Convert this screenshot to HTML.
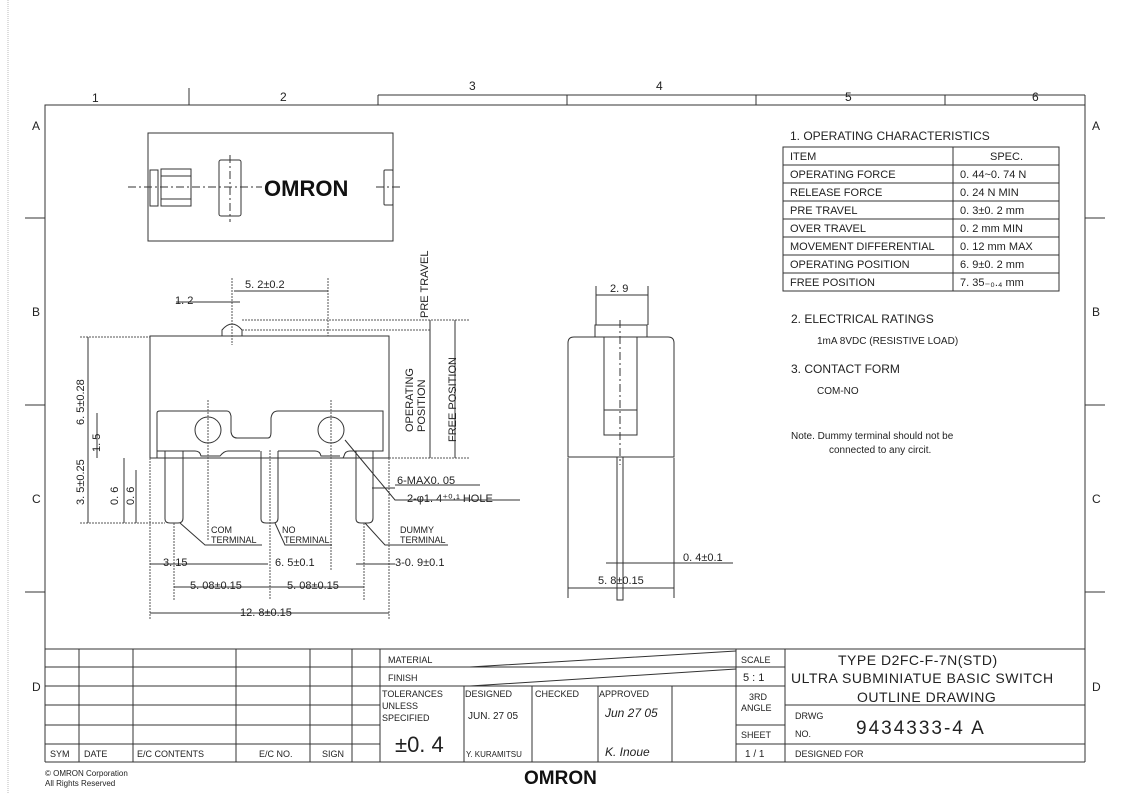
<!DOCTYPE html>
<html><head><meta charset="utf-8"><style>
body{margin:0;background:#fff}
svg{display:block}
text{font-family:"Liberation Sans",sans-serif;fill:#222}
</style></head><body>
<svg width="1122" height="794" viewBox="0 0 1122 794" xmlns="http://www.w3.org/2000/svg">
<g stroke="#333" stroke-width="1" fill="none">
<line x1="8" y1="0" x2="8" y2="794" stroke="#bbb" stroke-dasharray="1 1"/>
<path d="M45 762 V105 H1085 V762"/>
<line x1="45" y1="762" x2="1085" y2="762"/>
<path d="M378 95 H1085 M378 95 V105 M189 88 V105 M567 95 V105 M756 95 V105 M945 95 V105 M1085 95 V105"/>
<path d="M25 218 H45 M25 405 H45 M25 592 H45 M1085 218 H1105 M1085 405 H1105 M1085 592 H1105"/>
<rect x="148" y="133" width="245" height="108"/>
<rect x="150" y="170" width="8" height="36"/>
<rect x="161" y="169" width="30" height="37"/>
<line x1="161" y1="176" x2="191" y2="176"/><line x1="161" y1="199" x2="191" y2="199"/>
<rect x="219" y="160" width="22" height="56" rx="2"/>
<rect x="384" y="170" width="9" height="35" rx="1"/>
<line x1="128" y1="187" x2="262" y2="187" stroke-dasharray="8 3 2 3"/>
<line x1="376" y1="187" x2="400" y2="187" stroke-dasharray="8 3 2 3"/>
<line x1="230" y1="155" x2="230" y2="222" stroke-dasharray="8 3 2 3"/>
<rect x="150" y="336" width="239" height="122"/>
<path d="M157 458 V413 Q157 411 160 411 H227 Q230 411 231 416 V432 Q232 438 237 438 H268 Q271 438 271 432 V418 Q272 411 278 411 H383 V451 H350 Q345 451 344 456 L343 458 M157 458"/>
<path d="M157 451 H195 Q200 451 201 456 H220 Q224 451 228 451 H260 M278 451 H315 Q320 451 321 456 H340"/>
<circle cx="208" cy="430" r="13"/><circle cx="331" cy="430" r="13"/>
<path d="M165 451 V519 Q165 523 170 523 H178 Q183 523 183 518 V451"/>
<path d="M261 451 V519 Q261 523 266 523 H273 Q278 523 278 518 V451"/>
<path d="M356 451 V519 Q356 523 361 523 H368 Q373 523 373 518 V451"/>
<path d="M222 336 V330 Q232 318 242 330 V336"/>
<g stroke-dasharray="2 1" stroke="#555">
<line x1="208" y1="400" x2="208" y2="540"/><line x1="331" y1="400" x2="331" y2="570"/>
<line x1="270" y1="450" x2="270" y2="600"/><line x1="232" y1="278" x2="232" y2="345"/>
<line x1="328" y1="278" x2="328" y2="336"/><line x1="150" y1="458" x2="150" y2="620"/>
<line x1="389" y1="458" x2="389" y2="620"/><line x1="174" y1="523" x2="174" y2="600"/>
<line x1="364" y1="523" x2="364" y2="600"/><line x1="80" y1="523" x2="165" y2="523"/>
<line x1="80" y1="337" x2="150" y2="337"/><line x1="242" y1="330" x2="430" y2="330"/>
<line x1="242" y1="320" x2="470" y2="320"/><line x1="389" y1="458" x2="470" y2="458"/>
</g>
<path d="M234 291 H328 M176 302 H240 M88 337 V523 M97 413 V458 M124 458 V523 M136 470 V523 M430 320 V458 M455 320 V458 M150 564 H268 M174 587 H364 M150 613 H389 M356 564 H395 M372 488 H395"/>
<path d="M345 440 L370 470 L395 500 H520 M180 523 L205 545 H262 M275 523 L285 545 H332 M365 523 L385 545 H448 M395 485 H480"/>
<path d="M568 457 V343 Q568 337 574 337 H668 Q674 337 674 343 V457 Z"/>
<rect x="595" y="325" width="52" height="12"/>
<rect x="604" y="337" width="33" height="98"/><line x1="604" y1="410" x2="637" y2="410"/>
<line x1="620" y1="320" x2="620" y2="465" stroke-dasharray="8 3 2 3"/>
<rect x="617" y="457" width="6" height="143"/>
<path d="M596 286 V325 M648 286 V325 M568 458 V598 M674 458 V598 M596 295 H648 M568 588 H674 M606 563 H733"/>
<rect x="783" y="147" width="276" height="144"/>
<path d="M953 147 V291 M783 165 H1059 M783 183 H1059 M783 201 H1059 M783 219 H1059 M783 237 H1059 M783 255 H1059 M783 273 H1059"/>
<path d="M45 649 H1085 M45 667 H380 M45 686 H736 M45 705 H380 M45 725 H380 M45 744 H380 M380 667 H736 M736 667 H785 M736 686 H785 M736 725 H785 M736 744 H785 M785 705 H1085 M785 744 H1085"/>
<path d="M79 649 V762 M133 649 V762 M236 649 V762 M310 649 V762 M352 649 V762 M380 649 V762 M464 686 V762 M532 686 V762 M598 686 V762 M672 686 V762 M736 649 V762 M785 649 V762"/>
<path d="M470 667 L736 651 M470 686 L736 669"/>
</g>
<g font-size="12">
<text x="92" y="102">1</text><text x="280" y="101">2</text><text x="469" y="90">3</text><text x="656" y="90">4</text><text x="845" y="101">5</text><text x="1032" y="101">6</text>
<text x="32" y="130">A</text><text x="32" y="316">B</text><text x="32" y="503">C</text><text x="32" y="691">D</text>
<text x="1092" y="130">A</text><text x="1092" y="316">B</text><text x="1092" y="503">C</text><text x="1092" y="691">D</text>
</g>
<text x="264" y="196" font-size="22" font-weight="bold" style="fill:#111">OMRON</text>
<g font-size="11">
<text x="245" y="288">5. 2±0.2</text><text x="175" y="304">1. 2</text>
<text transform="translate(428 318) rotate(-90)">PRE TRAVEL</text>
<text transform="translate(413 432) rotate(-90)">OPERATING</text>
<text transform="translate(425 432) rotate(-90)">POSITION</text>
<text transform="translate(456 442) rotate(-90)">FREE POSITION</text>
<text transform="translate(84 425) rotate(-90)">6. 5±0.28</text>
<text transform="translate(100 452) rotate(-90)">1. 5</text>
<text transform="translate(84 505) rotate(-90)">3. 5±0.25</text>
<text transform="translate(118 505) rotate(-90)">0. 6</text>
<text transform="translate(134 505) rotate(-90)">0. 6</text>
<text x="397" y="484">6-MAX0. 05</text><text x="407" y="502">2-φ1. 4⁺⁰·¹ HOLE</text>
<text x="211" y="533" font-size="9">COM</text><text x="211" y="543" font-size="9">TERMINAL</text>
<text x="282" y="533" font-size="9">NO</text><text x="284" y="543" font-size="9">TERMINAL</text>
<text x="400" y="533" font-size="9">DUMMY</text><text x="400" y="543" font-size="9">TERMINAL</text>
<text x="163" y="566">3. 15</text><text x="275" y="566">6. 5±0.1</text><text x="395" y="566">3-0. 9±0.1</text>
<text x="190" y="589">5. 08±0.15</text><text x="287" y="589">5. 08±0.15</text>
<text x="240" y="616">12. 8±0.15</text>
<text x="610" y="292">2. 9</text><text x="598" y="584">5. 8±0.15</text><text x="683" y="561">0. 4±0.1</text>
<text x="790" y="140" font-size="12">1. OPERATING CHARACTERISTICS</text>
<text x="790" y="160">ITEM</text><text x="990" y="160">SPEC.</text>
<text x="790" y="178">OPERATING FORCE</text><text x="960" y="178">0. 44~0. 74 N</text>
<text x="790" y="196">RELEASE FORCE</text><text x="960" y="196">0. 24 N  MIN</text>
<text x="790" y="214">PRE TRAVEL</text><text x="960" y="214">0. 3±0. 2 mm</text>
<text x="790" y="232">OVER TRAVEL</text><text x="960" y="232">0. 2 mm  MIN</text>
<text x="790" y="250">MOVEMENT DIFFERENTIAL</text><text x="960" y="250">0. 12 mm MAX</text>
<text x="790" y="268">OPERATING POSITION</text><text x="960" y="268">6. 9±0. 2 mm</text>
<text x="790" y="286">FREE POSITION</text><text x="960" y="286">7. 35₋₀.₄ mm</text>
<text x="791" y="323" font-size="12">2. ELECTRICAL RATINGS</text>
<text x="817" y="344" font-size="10">1mA 8VDC (RESISTIVE LOAD)</text>
<text x="791" y="373" font-size="12">3. CONTACT FORM</text>
<text x="817" y="394" font-size="10">COM-NO</text>
<text x="791" y="439" font-size="10">Note. Dummy terminal should not be</text>
<text x="829" y="453" font-size="10">connected to any circit.</text>
</g>
<g font-size="9">
<text x="50" y="757">SYM</text><text x="84" y="757">DATE</text><text x="137" y="757">E/C CONTENTS</text><text x="259" y="757">E/C NO.</text><text x="322" y="757">SIGN</text>
<text x="388" y="663">MATERIAL</text><text x="388" y="681">FINISH</text>
<text x="382" y="697">TOLERANCES</text><text x="382" y="709">UNLESS</text><text x="382" y="721">SPECIFIED</text>
<text x="465" y="697">DESIGNED</text><text x="535" y="697">CHECKED</text><text x="599" y="697">APPROVED</text>
<text x="468" y="719" font-size="10">JUN. 27 05</text><text x="605" y="717" font-size="12" font-style="italic">Jun 27 05</text>
<text x="466" y="757" font-size="8">Y. KURAMITSU</text><text x="605" y="756" font-size="12" font-style="italic">K. Inoue</text>
<text x="741" y="663">SCALE</text><text x="743" y="681" font-size="11">5 : 1</text>
<text x="749" y="700">3RD</text><text x="741" y="711">ANGLE</text><text x="741" y="738">SHEET</text><text x="745" y="757" font-size="10">1 / 1</text>
<text x="795" y="719">DRWG</text><text x="795" y="737">NO.</text><text x="795" y="757">DESIGNED FOR</text>
</g>
<text x="395" y="752" font-size="22">±0. 4</text>
<g font-size="14" letter-spacing="0.5">
<text x="838" y="665">TYPE D2FC-F-7N(STD)</text>
<text x="791" y="683">ULTRA SUBMINIATUE BASIC SWITCH</text>
<text x="857" y="702">OUTLINE DRAWING</text>
</g>
<text x="856" y="734" font-size="19" letter-spacing="2">9434333-4 A</text>
<text x="45" y="776" font-size="8">© OMRON Corporation</text>
<text x="45" y="786" font-size="8">All Rights Reserved</text>
<text x="524" y="784" font-size="19" font-weight="bold" style="fill:#111">OMRON</text>
</svg>
</body></html>
